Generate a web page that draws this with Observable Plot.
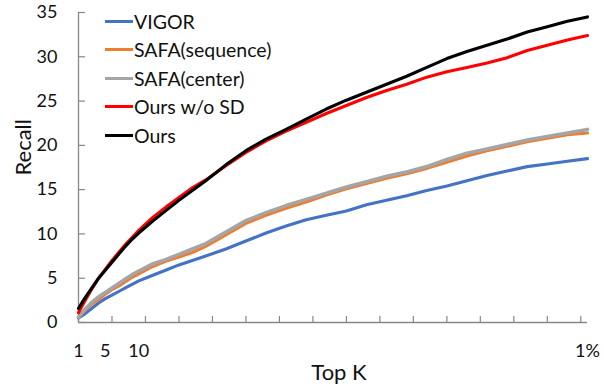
<!DOCTYPE html>
<html>
<head>
<meta charset="utf-8">
<script src="https://cdn.jsdelivr.net/npm/d3@7"></script>
<script src="https://cdn.jsdelivr.net/npm/@observablehq/plot@0.6"></script>
<style>
  html, body { margin: 0; padding: 0; background: #fff; }
  #wrap { position: relative; width: 604px; height: 387px; font-family: Lato, "Noto Sans", sans-serif; }
  #legend { position: absolute; left: 105px; top: 7px; }
  .row { display: flex; align-items: center; height: 28.5px; }
  .sw { width: 28px; height: 3px; margin-right: 1px; }
  .lab { font-size: 19.5px; color: #111; line-height: 1; white-space: nowrap; }
</style>
</head>
<body>
<div id="wrap"><div id="legend"></div></div>
<script>
// Top K positions (1% of the database is the last point)
const topK = [1,2,3,4,5,6,7,8,9,10,12,14,16,18,20,23,26,29,32,35,38,41,44,47,50,53,56,59,62,65,68,71,74,77];

const vigor    = [0.5,1.0,1.6,2.2,2.7,3.1,3.5,3.9,4.3,4.7,5.3,5.9,6.5,7.0,7.5,8.3,9.2,10.1,10.9,11.6,12.1,12.6,13.3,13.8,14.3,14.9,15.4,16.0,16.6,17.1,17.6,17.9,18.2,18.5];
const safaSeq  = [0.6,1.4,2.1,2.6,3.2,3.7,4.1,4.6,5.1,5.5,6.3,6.9,7.4,7.9,8.6,9.9,11.2,12.1,12.9,13.6,14.4,15.1,15.7,16.3,16.8,17.4,18.1,18.8,19.4,19.9,20.4,20.8,21.2,21.4];
const safaCtr  = [0.6,1.5,2.3,2.9,3.4,3.9,4.4,4.9,5.4,5.8,6.6,7.1,7.7,8.3,8.9,10.2,11.5,12.4,13.2,13.9,14.6,15.3,15.9,16.5,17.0,17.6,18.4,19.1,19.6,20.1,20.6,21.0,21.4,21.8];
const oursNoSD = [1.1,2.5,3.8,5.0,6.0,7.0,7.9,8.8,9.6,10.4,11.8,13.0,14.1,15.2,16.1,17.7,19.2,20.5,21.6,22.6,23.6,24.5,25.4,26.2,26.9,27.7,28.3,28.8,29.3,29.9,30.7,31.3,31.9,32.4];
const ours     = [1.6,2.8,3.9,5.0,5.9,6.8,7.7,8.6,9.4,10.1,11.4,12.6,13.8,14.9,16.0,17.8,19.4,20.7,21.8,22.95,24.1,25.1,26.0,26.9,27.8,28.8,29.8,30.6,31.3,32.0,32.8,33.4,34.0,34.5];

const seriesNames  = ["VIGOR", "SAFA(sequence)", "SAFA(center)", "Ours w/o SD", "Ours"];
const seriesValues = [vigor, safaSeq, safaCtr, oursNoSD, ours];
const seriesColors = ["#4472C4", "#ED7D31", "#A5A5A5", "#FF0000", "#000000"];

const yTicks = [0,5,10,15,20,25,30,35];
const xTickMarks = [1,6,11,16,21,26,31,36,41,46,51,56,61,66,71,76];
const xLabelK = [1,5,10,77];
const xLabelText = ["1","5","10","1%"];

const rows = seriesNames.flatMap((name, i) =>
  topK.map((k, j) => ({k, v: seriesValues[i][j], name})));

const axisColor = "#878787";
const textColor = "#111";

const chart = Plot.plot({
  width: 604,
  height: 387,
  marginLeft: 78,
  marginRight: 17,
  marginTop: 12,
  marginBottom: 65,
  style: {fontFamily: "Lato, 'Noto Sans', sans-serif", color: textColor, background: "#fff"},
  x: {domain: [1, 77]},
  y: {domain: [0, 35]},
  marks: [
    Plot.axisY(yTicks, {tickSize: 7, dx: 7, tickFormat: () => "", stroke: axisColor, strokeWidth: 1.2, label: null}),
    Plot.axisY(yTicks, {tickSize: 0, tickPadding: 21, fontSize: 18, fill: textColor, label: null}),
    Plot.axisX(xTickMarks, {tickSize: 6, dy: -6, tickFormat: () => "", stroke: axisColor, strokeWidth: 1.2, label: null}),
    Plot.axisX(xLabelK, {tickSize: 0, tickPadding: 22, fontSize: 18, fill: textColor, label: null,
      tickFormat: d => xLabelText[xLabelK.indexOf(d)]}),
    Plot.ruleX([1], {stroke: axisColor, strokeWidth: 1.3}),
    Plot.ruleY([0], {stroke: axisColor, strokeWidth: 1.3}),
    ...seriesNames.map((name, i) =>
      Plot.lineY(rows.filter(r => r.name === name), {
        x: "k", y: "v",
        stroke: seriesColors[i],
        strokeWidth: name === "SAFA(center)" ? 3.6 : 3.1,
        strokeLinejoin: "round"
      })),
    Plot.text(["Top K"], {frameAnchor: "bottom", dx: 6, dy: 50, fontSize: 22, fill: textColor, lineAnchor: "middle"}),
    Plot.text(["Recall"], {frameAnchor: "left", rotate: -90, dx: -55, dy: 8, fontSize: 22, fill: textColor, lineAnchor: "middle"})
  ]
});

const wrap = document.getElementById("wrap");
wrap.insertBefore(chart, wrap.firstChild);

const legend = document.getElementById("legend");
seriesNames.forEach((name, i) => {
  const row = document.createElement("div");
  row.className = "row";
  const sw = document.createElement("div");
  sw.className = "sw";
  sw.style.background = seriesColors[i];
  const lab = document.createElement("div");
  lab.className = "lab";
  lab.textContent = name;
  row.appendChild(sw);
  row.appendChild(lab);
  legend.appendChild(row);
});
</script>
</body>
</html>
